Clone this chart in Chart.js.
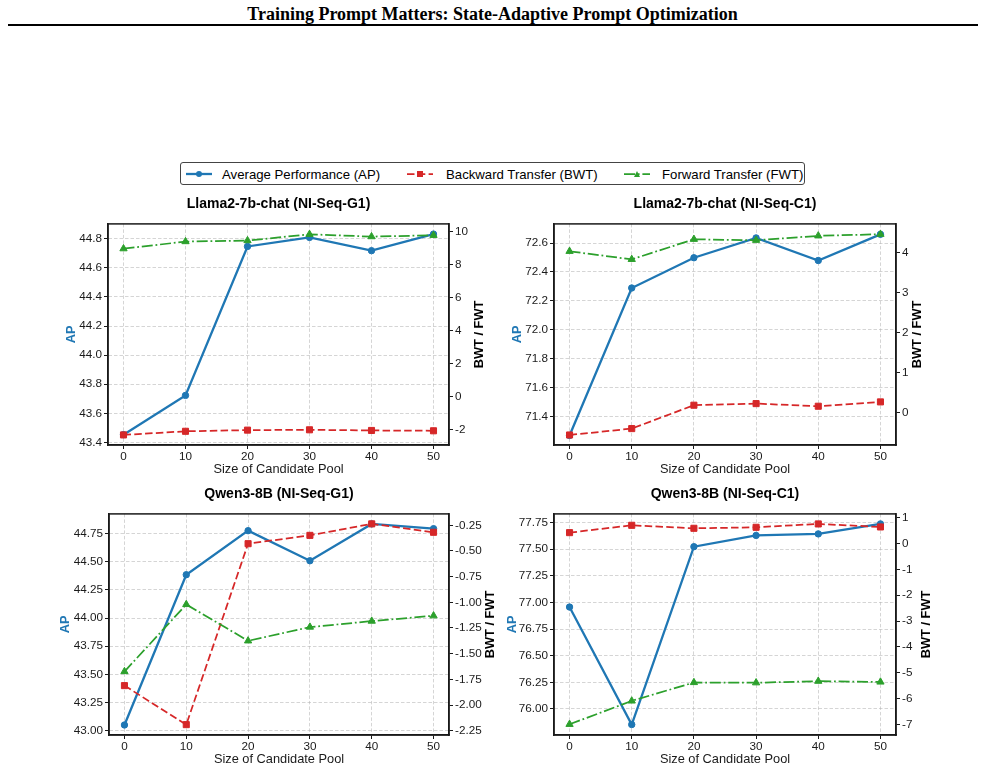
<!DOCTYPE html>
<html>
<head>
<meta charset="utf-8">
<title>Training Prompt Matters</title>
<script src="https://cdn.jsdelivr.net/npm/chart.js@4.4.1/dist/chart.umd.min.js"></script>
<style>
  html, body { margin: 0; padding: 0; background: #fff; }
  body { width: 985px; height: 770px; position: relative; overflow: hidden;
         font-family: "Liberation Sans", Arial, sans-serif; }
  #header { position: absolute; left: 0; top: 3px; width: 985px; text-align: center;
            font-family: "Liberation Serif", "Times New Roman", serif; font-weight: bold;
            font-size: 18px; line-height: 22px; color: #000; }
  #rule { position: absolute; left: 8px; top: 24px; width: 970px; height: 2px; background: #000; }
  #legend { position: absolute; left: 180px; top: 162px; width: 625px; height: 23px;
            border: 1px solid #444; border-radius: 3px; box-sizing: border-box;
            font-size: 13.2px; color: #000; white-space: nowrap; }
  #legend svg, #legend span { position: absolute; top: 50%; transform: translateY(-50%); }
  canvas { position: absolute; left: 0; top: 0; }
</style>
</head>
<body>
<div id="header">Training Prompt Matters: State-Adaptive Prompt Optimization</div>
<div id="rule"></div>
<div id="legend">
  <svg style="left:5px" width="26" height="10"><line x1="0" y1="5" x2="26" y2="5" stroke="#1f77b4" stroke-width="2.3"/><circle cx="13" cy="5" r="3" fill="#1f77b4"/></svg>
  <span style="left:41px">Average Performance (AP)</span>
  <svg style="left:226px" width="26" height="10"><line x1="0" y1="5" x2="26" y2="5" stroke="#d62728" stroke-width="1.75" stroke-dasharray="7.5 3.3"/><rect x="10" y="2" width="6" height="6" fill="#d62728"/></svg>
  <span style="left:265px">Backward Transfer (BWT)</span>
  <svg style="left:443px" width="26" height="10"><line x1="0" y1="5" x2="26" y2="5" stroke="#2ca02c" stroke-width="1.75" stroke-dasharray="11 2.8 1.8 2.8"/><polygon points="13,2 16,8 10,8" fill="#2ca02c"/></svg>
  <span style="left:481px">Forward Transfer (FWT)</span>
</div>
<script>
// candidate pool sizes (x axis)
const poolSizes = [0, 10, 20, 30, 40, 50];

const panelTitles = [
  "Llama2-7b-chat (NI-Seq-G1)",
  "Llama2-7b-chat (NI-Seq-C1)",
  "Qwen3-8B (NI-Seq-G1)",
  "Qwen3-8B (NI-Seq-C1)"
];

// Llama2-7b-chat, NI-Seq-G1
const apLlamaG1 = [43.453, 43.723, 44.747, 44.809, 44.718, 44.832];
const bwtLlamaG1 = [-2.32, -2.10, -2.03, -2.01, -2.05, -2.07];
const fwtLlamaG1 = [8.95, 9.38, 9.44, 9.82, 9.68, 9.76];

// Llama2-7b-chat, NI-Seq-C1
const apLlamaC1 = [71.27, 72.289, 72.498, 72.635, 72.479, 72.66];
const bwtLlamaC1 = [-0.56, -0.40, 0.186, 0.226, 0.16, 0.269];
const fwtLlamaC1 = [4.042, 3.84, 4.343, 4.318, 4.429, 4.469];

// Qwen3-8B, NI-Seq-G1
const apQwenG1 = [43.051, 44.385, 44.776, 44.509, 44.836, 44.794];
const bwtQwenG1 = [-1.811, -2.191, -0.429, -0.348, -0.236, -0.318];
const fwtQwenG1 = [-1.674, -1.021, -1.375, -1.241, -1.183, -1.131];

// Qwen3-8B, NI-Seq-C1
const apQwenC1 = [76.957, 75.853, 77.524, 77.63, 77.644, 77.738];
const bwtQwenC1 = [0.427, 0.711, 0.595, 0.634, 0.764, 0.647];
const fwtQwenC1 = [-7.0, -6.095, -5.38, -5.39, -5.33, -5.36];

// axis limits / tick steps
const apLimits = [[43.382, 44.902], [71.204, 72.732], [42.962, 44.925], [75.755, 77.832]];
const apSteps = [0.2, 0.2, 0.25, 0.25];
const apDecimals = [1, 1, 2, 2];
const transferLimits = [[-2.93, 10.45], [-0.811, 4.728], [-2.292, -0.139], [-7.415, 1.153]];
const transferSteps = [2, 1, 0.25, 1];
const transferDecimals = [0, 0, 2, 0];

const BLUE = "#1f77b4", RED = "#d62728", GREEN = "#2ca02c";
const INK = "#1a1a1a";
const GRID = "rgba(176,176,176,0.6)";
const FONT = '"Liberation Sans", Arial, sans-serif';
const AXIS_W = 60, XAXIS_H = 35, TITLE_H = 28.4;

Chart.defaults.font.family = FONT;
Chart.defaults.color = INK;

// page position of each plot area, and where the y labels sit
const panels = [
  { left: 108, right: 449, top: 224.3, bottom: 445, apX: 71, bwtX: 479,
    ap: apLlamaG1, bwt: bwtLlamaG1, fwt: fwtLlamaG1 },
  { left: 554, right: 896, top: 224.3, bottom: 445, apX: 517, bwtX: 917,
    ap: apLlamaC1, bwt: bwtLlamaC1, fwt: fwtLlamaC1 },
  { left: 109, right: 449, top: 514.3, bottom: 735, apX: 65, bwtX: 490,
    ap: apQwenG1, bwt: bwtQwenG1, fwt: fwtQwenG1 },
  { left: 554, right: 896, top: 514.3, bottom: 735, apX: 512, bwtX: 926,
    ap: apQwenC1, bwt: bwtQwenC1, fwt: fwtQwenC1 }
];

const toPoints = (vals) => poolSizes.map((x, i) => ({ x: x, y: vals[i] }));

// top spine + right axis label (matplotlib reads it bottom-to-top)
const framePlugin = {
  id: "frame",
  afterDraw(chart, args, opts) {
    const { ctx, chartArea } = chart;
    ctx.save();
    ctx.strokeStyle = INK;
    ctx.lineWidth = 1.5;
    ctx.strokeRect(chartArea.left, chartArea.top, chartArea.right - chartArea.left, chartArea.bottom - chartArea.top);
    ctx.translate(opts.x, (chartArea.top + chartArea.bottom) / 2);
    ctx.rotate(-Math.PI / 2);
    ctx.font = "bold 12.8px " + FONT;
    ctx.fillStyle = "#000";
    ctx.textAlign = "center";
    ctx.textBaseline = "middle";
    ctx.fillText(opts.text, 0, 0);
    ctx.restore();
  }
};

const tickFont = { size: 11.7 };

const buildPanel = (p, idx) => {
  const canvas = document.createElement("canvas");
  canvas.width = 985;
  canvas.height = 770;
  document.body.appendChild(canvas);

  const labelLh = 12.8 * 1.2;

  new Chart(canvas, {
    type: "line",
    data: {
      datasets: [
        {
          label: "Average Performance (AP)",
          data: toPoints(p.ap),
          yAxisID: "y",
          borderColor: BLUE,
          backgroundColor: BLUE,
          borderWidth: 2.3,
          pointStyle: "circle",
          pointRadius: 3.2,
          pointBorderWidth: 1,
          order: 2
        },
        {
          label: "Backward Transfer (BWT)",
          data: toPoints(p.bwt),
          yAxisID: "y1",
          borderColor: RED,
          backgroundColor: RED,
          borderWidth: 1.75,
          borderDash: [7.5, 3.3],
          pointStyle: "rect",
          pointRadius: 4.3,
          pointBorderWidth: 1,
          order: 1
        },
        {
          label: "Forward Transfer (FWT)",
          data: toPoints(p.fwt),
          yAxisID: "y1",
          borderColor: GREEN,
          backgroundColor: GREEN,
          borderWidth: 1.75,
          borderDash: [11, 2.8, 1.8, 2.8],
          pointStyle: "triangle",
          pointRadius: 4.2,
          pointBorderWidth: 1,
          order: 0
        }
      ]
    },
    options: {
      responsive: false,
      animation: false,
      layout: {
        padding: {
          left: p.left - AXIS_W,
          right: 985 - p.right - AXIS_W,
          top: p.top - TITLE_H,
          bottom: 770 - p.bottom - XAXIS_H
        }
      },
      plugins: {
        legend: { display: false },
        tooltip: { enabled: false },
        title: {
          display: true,
          text: panelTitles[idx],
          color: "#000",
          font: { size: 14, weight: "bold" },
          padding: { top: 0, bottom: TITLE_H - 16.8 - 0.4 }
        },
        frame: { x: p.bwtX, text: "BWT / FWT" }
      },
      scales: {
        x: {
          type: "linear",
          min: -2.5,
          max: 52.5,
          afterFit: (s) => { s.height = XAXIS_H; },
          ticks: { stepSize: 10, includeBounds: false, padding: 0.5, font: tickFont, color: INK },
          grid: { color: GRID, lineWidth: 0.9, tickLength: 4, tickColor: INK, tickWidth: 1 },
          border: { color: INK, width: 1.5, dash: [3.5, 2] },
          title: { display: true, text: "Size of Candidate Pool", color: INK,
                   font: { size: 12.8 }, padding: { top: 0, bottom: 3 } }
        },
        y: {
          position: "left",
          min: apLimits[idx][0],
          max: apLimits[idx][1],
          afterFit: (s) => { s.width = AXIS_W; },
          ticks: { stepSize: apSteps[idx], includeBounds: false, padding: 2, font: tickFont, color: INK,
                   callback: (v) => v.toFixed(apDecimals[idx]) },
          grid: { color: GRID, lineWidth: 0.9, tickLength: 4, tickColor: INK, tickWidth: 1 },
          border: { color: INK, width: 1.5, dash: [3.5, 2] },
          title: { display: true, text: "AP", color: BLUE, font: { size: 12.8, weight: "bold" },
                   padding: { top: p.apX - (p.left - AXIS_W) - labelLh / 2, bottom: 0 } }
        },
        y1: {
          position: "right",
          min: transferLimits[idx][0],
          max: transferLimits[idx][1],
          afterFit: (s) => { s.width = AXIS_W; },
          ticks: { stepSize: transferSteps[idx], includeBounds: false, padding: 2, font: tickFont, color: INK,
                   callback: (v) => v.toFixed(transferDecimals[idx]) },
          grid: { drawOnChartArea: false, tickLength: 4, tickColor: INK, tickWidth: 1 },
          border: { color: INK, width: 1.5 }
        }
      }
    },
    plugins: [framePlugin]
  });
};

panels.forEach(buildPanel);
</script>
</body>
</html>
